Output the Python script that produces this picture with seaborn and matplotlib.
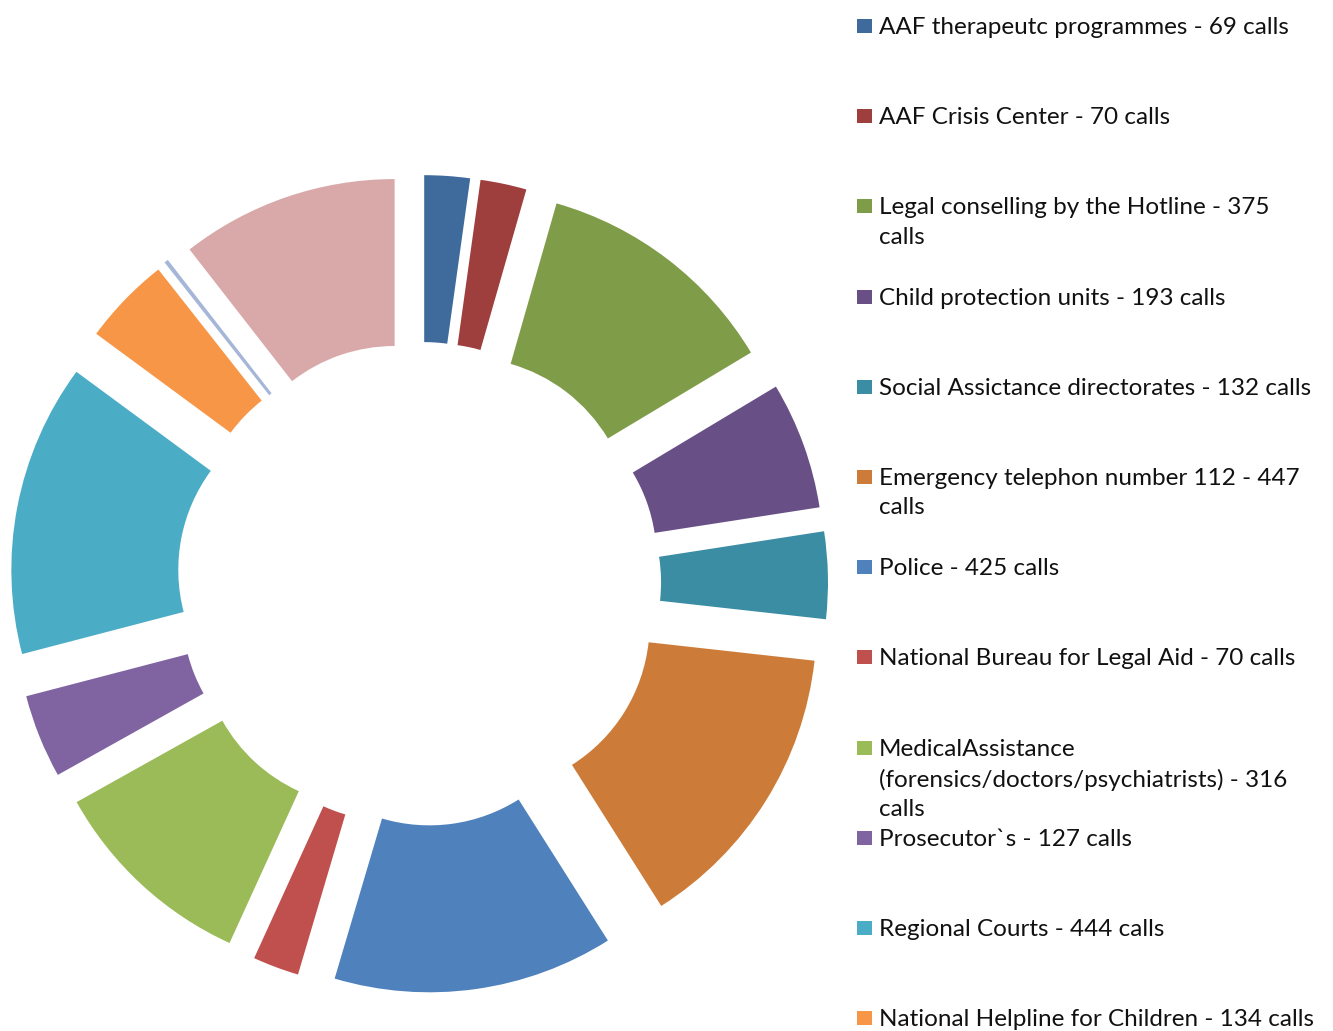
import matplotlib
matplotlib.use("Agg")
import matplotlib.pyplot as plt
import seaborn as sns
from matplotlib.patches import Rectangle

sns.set_theme(style="white")
plt.rcParams['font.family'] = ['Lato', 'DejaVu Sans']

# ---- data ----
labels = [
    "AAF therapeutc programmes - 69 calls",
    "AAF Crisis Center - 70 calls",
    "Legal conselling by the Hotline - 375\ncalls",
    "Child protection units - 193 calls",
    "Social Assictance directorates - 132 calls",
    "Emergency telephon number 112 - 447\ncalls",
    "Police - 425 calls",
    "National Bureau for Legal Aid - 70 calls",
    "MedicalAssistance\n(forensics/doctors/psychiatrists) - 316\ncalls",
    "Prosecutor`s - 127 calls",
    "Regional Courts - 444 calls",
    "National Helpline for Children - 134 calls",
]
values = [69, 70, 375, 193, 132, 447, 425, 70, 316, 127, 444, 134, 3, 330]
colors = ["#3F6A9C", "#9E3F3D", "#7F9C49", "#684F86", "#3A8DA3", "#CC7C38",
          "#4F81BD", "#C0504D", "#9BBB59", "#8064A2", "#4BACC6", "#F79646",
          "#A5B6D8", "#D9A9AA"]
palette = sns.color_palette(colors)

W, H = 1333, 1031
fig = plt.figure(figsize=(W / 100, H / 100), dpi=100)
fig.patch.set_facecolor("white")

ax = fig.add_axes([10 / W, 38 / H, 818 / W, 818 / H])
wedges, _ = ax.pie(values, colors=palette, startangle=90, counterclock=False,
                   radius=1.0, explode=[0.225] * len(values),
                   wedgeprops=dict(width=0.5, linewidth=0))
wedges[12].set_edgecolor(colors[12])
wedges[12].set_linewidth(1.5)
ax.set_xlim(-1.225, 1.225)
ax.set_ylim(-1.225, 1.225)
ax.set_aspect("equal")
ax.axis("off")

# ---- legend (Excel-style, fixed spacing, clipped at bottom) ----
y0 = 26
step = 90.2
for i, lab in enumerate(labels):
    yc = y0 + i * step
    fig.patches.append(Rectangle((857 / W, 1 - (yc + 7) / H), 15 / W, 14 / H,
                                 transform=fig.transFigure, facecolor=colors[i],
                                 edgecolor="none"))
    fig.text(879 / W, 1 - (yc - 9) / H, lab, ha="left", va="top",
             fontsize=17.5, color="#111111", linespacing=1.5)

fig.savefig("out.png", dpi=100, facecolor="white")
